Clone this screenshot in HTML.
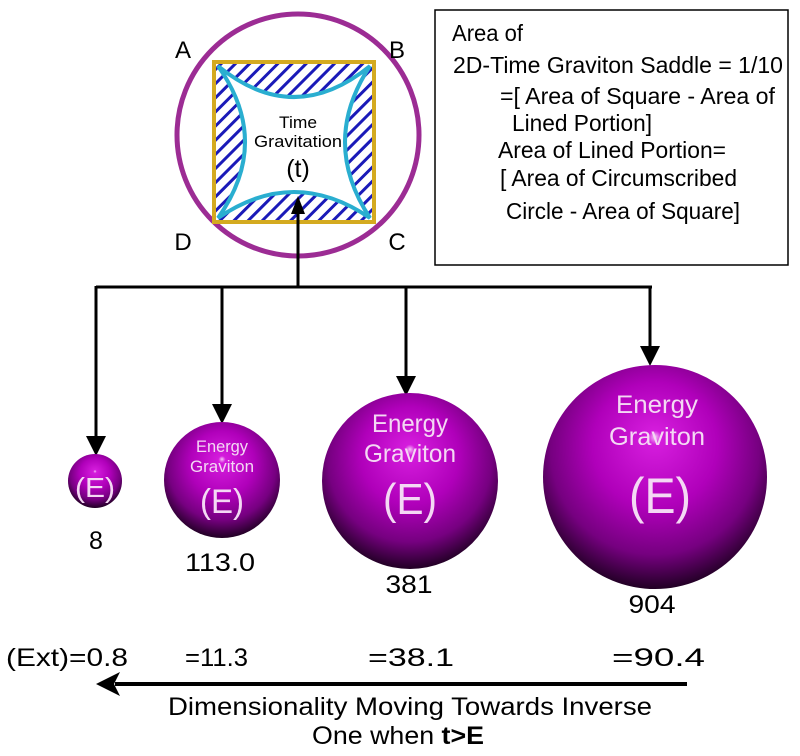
<!DOCTYPE html>
<html><head><meta charset="utf-8"><style>
html,body{margin:0;padding:0;background:#fff;}
svg{display:block;font-family:"Liberation Sans",Arial,sans-serif;}
</style></head><body>
<svg width="800" height="756" viewBox="0 0 800 756" xmlns="http://www.w3.org/2000/svg">
<defs>
<radialGradient id="sph" cx="0.5" cy="0.4" r="0.62" fx="0.5" fy="0.32">
<stop offset="0" stop-color="#f6c0f8"/>
<stop offset="0.05" stop-color="#d41cdc"/>
<stop offset="0.45" stop-color="#b000ba"/>
<stop offset="0.75" stop-color="#760080"/>
<stop offset="1" stop-color="#160018"/>
</radialGradient>
<pattern id="hatch" width="10" height="10" patternUnits="userSpaceOnUse" patternTransform="rotate(45)">
<rect width="10" height="10" fill="#fff"/>
<rect x="0" y="0" width="3" height="10" fill="#1a1ab8"/>
</pattern>
</defs>

<!-- top figure -->
<circle cx="298" cy="135" r="121" fill="none" stroke="#9c2c94" stroke-width="5"/>
<rect x="214" y="62" width="160" height="160" fill="url(#hatch)"/>
<path d="M218,66 Q294,128 370,66 Q320,142 370,218 Q294,166 218,218 Q272,142 218,66 Z" fill="#fff" stroke="#2aaed0" stroke-width="4"/>
<rect x="214" y="62" width="160" height="160" fill="none" stroke="#d4aa20" stroke-width="4"/>
<text x="298" y="128" font-size="17" text-anchor="middle" textLength="38" lengthAdjust="spacingAndGlyphs">Time</text>
<text x="298" y="147" font-size="17" text-anchor="middle" textLength="88" lengthAdjust="spacingAndGlyphs">Gravitation</text>
<text x="298" y="177" font-size="25" text-anchor="middle">(t)</text>
<g font-size="24" text-anchor="middle">
<text x="183" y="58">A</text>
<text x="397" y="58">B</text>
<text x="183" y="250">D</text>
<text x="397" y="250">C</text>
</g>

<!-- box -->
<rect x="435" y="10" width="353" height="255" fill="#fff" stroke="#000" stroke-width="1.5"/>
<g font-size="23">
<text x="452" y="41" textLength="71" lengthAdjust="spacingAndGlyphs">Area of</text>
<text x="453" y="73" textLength="330" lengthAdjust="spacingAndGlyphs">2D-Time Graviton Saddle = 1/10</text>
<text x="500" y="104" textLength="275" lengthAdjust="spacingAndGlyphs">=[ Area of Square - Area of</text>
<text x="512" y="131" textLength="140" lengthAdjust="spacingAndGlyphs">Lined Portion]</text>
<text x="498" y="158" textLength="228" lengthAdjust="spacingAndGlyphs">Area of Lined Portion=</text>
<text x="500" y="186" textLength="237" lengthAdjust="spacingAndGlyphs">[ Area of Circumscribed</text>
<text x="506" y="219" textLength="234" lengthAdjust="spacingAndGlyphs">Circle - Area of Square]</text>
</g>

<!-- connectors -->
<g stroke="#000" stroke-width="3" fill="none">
<line x1="96" y1="287" x2="652" y2="287"/>
<line x1="298" y1="287" x2="298" y2="212"/>
<line x1="96" y1="286" x2="96" y2="440"/>
<line x1="222" y1="286" x2="222" y2="408"/>
<line x1="406" y1="286" x2="406" y2="380"/>
<line x1="650" y1="286" x2="650" y2="350"/>
<line x1="687" y1="684" x2="115" y2="684" stroke-width="4"/>
</g>
<g fill="#000">
<path d="M298,196 L291,214 L305,214 Z"/>
<path d="M96,456 L86,436 L106,436 Z"/>
<path d="M222,424 L212,404 L232,404 Z"/>
<path d="M406,396 L396,376 L416,376 Z"/>
<path d="M650,366 L640,346 L660,346 Z"/>
<path d="M96,684 L120,672 L114,684 L120,696 Z"/>
</g>

<!-- spheres -->
<circle cx="95" cy="481" r="27" fill="url(#sph)"/>
<circle cx="222" cy="480" r="58" fill="url(#sph)"/>
<circle cx="410" cy="481" r="88" fill="url(#sph)"/>
<circle cx="655" cy="477" r="112" fill="url(#sph)"/>
<g fill="#f4d8f4" text-anchor="middle">
<text x="95" y="497" font-size="28" textLength="40" lengthAdjust="spacingAndGlyphs">(E)</text>
<text x="222" y="452" font-size="17" textLength="52" lengthAdjust="spacingAndGlyphs">Energy</text>
<text x="222" y="472" font-size="17" textLength="64" lengthAdjust="spacingAndGlyphs">Graviton</text>
<text x="222" y="513" font-size="34" textLength="44" lengthAdjust="spacingAndGlyphs">(E)</text>
<text x="410" y="432" font-size="25" textLength="76" lengthAdjust="spacingAndGlyphs">Energy</text>
<text x="410" y="462" font-size="25" textLength="92" lengthAdjust="spacingAndGlyphs">Graviton</text>
<text x="410" y="514" font-size="44" textLength="54" lengthAdjust="spacingAndGlyphs">(E)</text>
<text x="657" y="413" font-size="25" textLength="82" lengthAdjust="spacingAndGlyphs">Energy</text>
<text x="657" y="445" font-size="25" textLength="96" lengthAdjust="spacingAndGlyphs">Graviton</text>
<text x="660" y="513" font-size="50" textLength="62" lengthAdjust="spacingAndGlyphs">(E)</text>
</g>

<!-- labels -->
<g font-size="25" text-anchor="middle">
<text x="96" y="549">8</text>
<text x="220" y="571" textLength="70" lengthAdjust="spacingAndGlyphs">113.0</text>
<text x="409" y="593" textLength="47" lengthAdjust="spacingAndGlyphs">381</text>
<text x="652" y="613" textLength="47" lengthAdjust="spacingAndGlyphs">904</text>
</g>
<g font-size="25">
<text x="6" y="666" textLength="122" lengthAdjust="spacingAndGlyphs">(Ext)=0.8</text>
<text x="185" y="666" textLength="63" lengthAdjust="spacingAndGlyphs">=11.3</text>
<text x="368" y="666" textLength="86" lengthAdjust="spacingAndGlyphs">=38.1</text>
<text x="612" y="666" textLength="93" lengthAdjust="spacingAndGlyphs">=90.4</text>
<text x="168" y="715" textLength="484" lengthAdjust="spacingAndGlyphs">Dimensionality Moving Towards Inverse</text>
<text x="312" y="744" textLength="172" lengthAdjust="spacingAndGlyphs">One when <tspan font-weight="bold">t&gt;E</tspan></text>
</g>
</svg>
</body></html>
